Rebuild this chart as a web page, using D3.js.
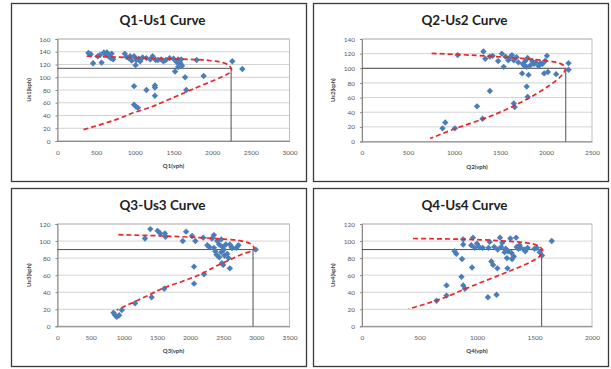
<!DOCTYPE html>
<html><head><meta charset="utf-8">
<script src="https://cdn.jsdelivr.net/npm/d3@7"></script>
<style>
html,body{margin:0;padding:0;background:#fff;}
svg{display:block;}
text{font-family:Lato,"Open Sans",sans-serif;}
</style></head>
<body>
<svg id="c" width="611" height="369"></svg>
<script>
// ---------- DATA ----------
const titles = ["Q1-Us1 Curve","Q2-Us2 Curve","Q3-Us3 Curve","Q4-Us4 Curve"];
const xLabels = ["Q1(vph)","Q2(vph)","Q3(vph)","Q4(vph)"];
const yLabels = ["Us1(kph)","Us2(kph)","Us3(kph)","Us4(kph)"];
const xTicks1 = [0,500,1000,1500,2000,2500,3000];
const xTicks2 = [0,500,1000,1500,2000,2500];
const xTicks3 = [0,500,1000,1500,2000,2500,3000,3500];
const xTicks4 = [0,500,1000,1500,2000];
const yTicks1 = [0,20,40,60,80,100,120,140,160];
const yTicks2 = [0,20,40,60,80,100,120,140];
const yTicks3 = [0,20,40,60,80,100,120];
const yTicks4 = [0,20,40,60,80,100,120];

const points1 = [[400,138],[430,136],[460,122],[520,133],[550,135],[570,123],[600,139],[620,136],[640,139],[660,133],[690,130],[700,137],[720,128],
[870,137],[890,132],[920,130],[940,133],[960,126],[990,133],[1010,119],[1020,127],[1050,129],[1070,125],[1100,131],[1150,130],[1200,128],
[1230,133],[1270,127],[1300,127],[1340,128],[1370,125],[1400,127],[1450,130],[1500,129],[1540,124],[1560,128],[1590,122],[1600,128],[1610,118],
[1520,109],[1560,116],[1650,100],[1665,80],[1800,127],[1890,102],[2260,125],[2390,113],[990,86],[1150,80],[1260,87],[1260,84],[1260,71],
[990,57],[1015,54],[1040,52]];
const points2 = [[1040,118],[1320,123],[1340,113],[1390,116],[1420,117],[1480,110],[1520,120],[1540,102],[1560,116],[1590,111],[1610,115],
[1630,118],[1650,111],[1680,115],[1700,108],[1740,93],[1750,106],[1760,104],[1775,110],[1790,102],[1810,91],[1800,114],[1830,104],[1850,110],
[1870,106],[1890,108],[1920,103],[1940,107],[1960,106],[1990,110],[2010,117],[1980,93],[2020,95],[2110,92],[2245,107],[2245,98],
[1790,75],[1800,61],[1660,47],[1650,52],[1390,69],[1250,48],[1310,31],[905,26],[875,18],[1010,18]];
const points3 = [[1400,114],[1320,103],[1510,112],[1550,109],[1620,109],[1630,105],[1890,100],[1940,111],[2030,106],[2080,100],[2200,104],
[2260,95],[2290,93],[2330,103],[2360,107],[2360,92],[2380,88],[2400,84],[2410,100],[2440,96],[2440,81],[2470,102],[2470,87],[2490,93],
[2510,90],[2520,83],[2540,96],[2560,85],[2580,80],[2600,96],[2630,92],[2640,92],[2700,92],[2730,95],[2990,90],[2500,72],[2600,68],[2480,74],
[2060,70],[2060,50],[2210,61],[1610,44],[1420,34],[1170,27],[970,19],[845,16],[870,13],[895,11],[930,13]];
const points4 = [[880,102],[880,96],[965,104],[950,95],[980,92],[1000,97],[1020,93],[1050,92],[1100,92],[1110,99],[1150,93],[1180,90],
[1200,104],[1210,93],[1220,98],[1240,87],[1250,91],[1260,80],[1270,88],[1290,103],[1300,86],[1320,82],[1340,104],[1345,93],[1360,91],
[1370,95],[1380,92],[1410,90],[1420,88],[1440,92],[1500,91],[1520,92],[1545,87],[1565,83],[1650,100],[805,88],[820,85],[870,79],[957,69],
[1125,76],[1140,72],[1177,68],[1265,68],[1305,79],[865,58],[735,48],[880,48],[895,44],[735,36],[648,30],[1095,34],[1170,37]];

const curve1 = [[378,133],[800,131.5],[1200,129.8],[1600,128.5],[1800,127.7],[2000,125.8],[2150,122.5],[2225,117.5],[2250,112],[2225,107],[2150,102],[2000,94],[1800,84],[1628,75],[1400,63],[1200,53],[1000,45],[766,34],[313,17]];
const curve2 = [[757,120.4],[1100,118.5],[1373,116.6],[1735,113.5],[2025,110],[2152,106.7],[2212,100],[2171,90.6],[2025,75.5],[1735,54],[1373,33.4],[1010,17.4],[740,4]];
const curve3 = [[918,107.5],[1500,106.2],[2150,104],[2660,101.3],[2860,98.5],[2940,95],[2965,91.5],[2920,88],[2810,85.3],[2600,78],[2400,71],[2210,63],[2000,56],[1800,50.5],[1600,45],[1400,37.5],[1196,30],[1000,23],[893,19]];
const curve4 = [[443,103],[806,102.3],[1241,100],[1444,97.6],[1530,94.5],[1570,88.5],[1545,82],[1473,76],[1241,62.5],[951,46.9],[661,31],[406,20.3]];

const capacity = [[2245,114],[2215,100],[2950,90],[1562,90]];
const xMax = [3000,2500,3500,2000];
const yMax = [160,140,120,120];

// ---------- LAYOUT ----------
const panels = [
  {box:[11,3,306,181], plot:[57.5,39,289.5,141]},
  {box:[313,3,608,181], plot:[362,39,592,141.5]},
  {box:[11,188,306,366], plot:[57.5,224,289.5,326.3]},
  {box:[313,188,608,366], plot:[362,224,592,326.3]}
];
const allX = [xTicks1,xTicks2,xTicks3,xTicks4];
const allY = [yTicks1,yTicks2,yTicks3,yTicks4];
const allP = [points1,points2,points3,points4];
const allC = [curve1,curve2,curve3,curve4];

const svg = d3.select("#c");
svg.append("rect").attr("width",611).attr("height",369).attr("fill","#fff");

panels.forEach((p,i)=>{
  const [bx0,by0,bx1,by1] = p.box;
  const [px0,py0,px1,py1] = p.plot;
  const g = svg.append("g");
  g.append("rect").attr("x",bx0+0.5).attr("y",by0+0.5).attr("width",bx1-bx0).attr("height",by1-by0)
    .attr("fill","#fff").attr("stroke","#3a3a3a").attr("stroke-width",1.3);

  const x = d3.scaleLinear().domain([0,xMax[i]]).range([px0,px1]);
  const y = d3.scaleLinear().domain([0,yMax[i]]).range([py1,py0]);

  // gridlines
  g.append("g").selectAll("line").data(allY[i]).join("line")
    .attr("x1",px0).attr("x2",px1).attr("y1",d=>y(d)).attr("y2",d=>y(d))
    .attr("stroke","#c8c8c8").attr("stroke-width",0.8);
  // plot border
  g.append("rect").attr("x",px0).attr("y",py0).attr("width",px1-px0).attr("height",py1-py0)
    .attr("fill","none").attr("stroke","#b0b0b0").attr("stroke-width",0.8);

  // axes
  const xa = g.append("g").attr("transform",`translate(0,${py1})`)
    .call(d3.axisBottom(x).tickValues(allX[i]).tickSize(0).tickPadding(9).tickFormat(d3.format("d")));
  xa.select(".domain").attr("stroke","#888");
  xa.selectAll("text").attr("font-size",6.5).attr("fill","#595959").attr("font-family","Lato,sans-serif");
  const ya = g.append("g").attr("transform",`translate(${px0},0)`)
    .call(d3.axisLeft(y).tickValues(allY[i]).tickSize(2).tickPadding(5).tickFormat(d3.format("d")));
  ya.select(".domain").attr("stroke","#888");
  ya.selectAll("line").attr("stroke","#888");
  ya.selectAll("text").attr("font-size",6.5).attr("fill","#595959").attr("font-family","Lato,sans-serif");

  // capacity drop lines
  const [cq,cv] = capacity[i];
  g.append("path").attr("d",`M${x(0)},${y(cv)}H${x(cq)}V${y(0)}`)
    .attr("fill","none").attr("stroke","#3c3c3c").attr("stroke-width",0.9);

  // points
  g.append("g").selectAll("path").data(allP[i]).join("path")
    .attr("d",d3.symbol().type(d3.symbolDiamond2).size(26))
    .attr("transform",d=>`translate(${x(d[0])},${y(d[1])})`)
    .attr("fill","#4a7ebb");

  // curve (speed decreases monotonically along the path)
  g.append("path").datum(allC[i])
    .attr("d",d3.line().x(d=>x(d[0])).y(d=>y(d[1])).curve(d3.curveMonotoneY))
    .attr("fill","none").attr("stroke","#e8262a").attr("stroke-width",1.7).attr("stroke-dasharray","5,3");

  // titles
  const cx = (bx0+bx1)/2 + 4;
  g.append("text").attr("x",cx).attr("y",by0+22).attr("text-anchor","middle")
    .attr("font-size",13.5).attr("font-weight","bold").attr("fill","#222").text(titles[i]);
  g.append("text").attr("x",(px0+px1)/2).attr("y",py1+27).attr("text-anchor","middle")
    .attr("font-size",6).attr("font-weight","bold").attr("fill","#404040").text(xLabels[i]);
  g.append("text").attr("transform",`translate(${px0-27},${(py0+py1)/2}) rotate(-90)`).attr("text-anchor","middle")
    .attr("font-size",6).attr("font-weight","bold").attr("fill","#404040").text(yLabels[i]);
});
</script>
</body></html>
